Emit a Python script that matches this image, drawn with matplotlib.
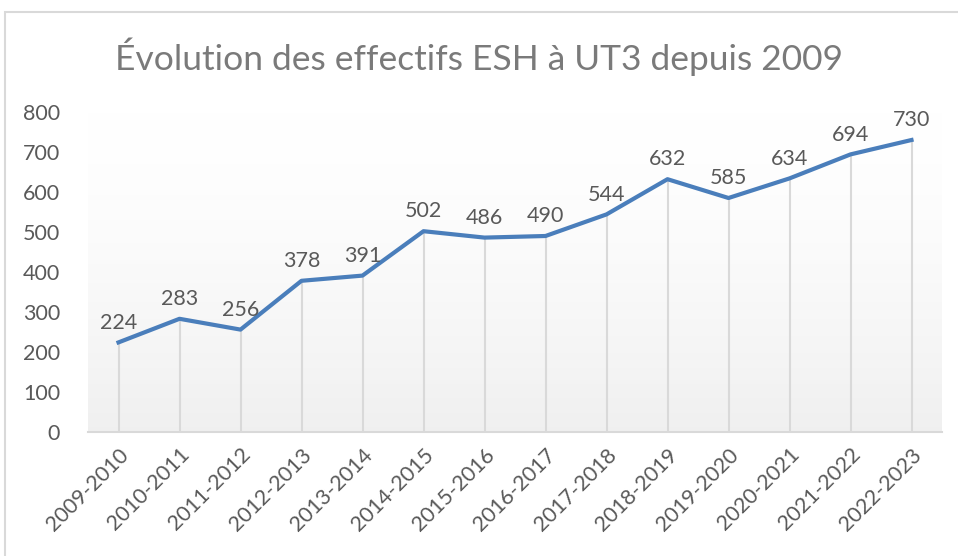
import numpy as np
import matplotlib.pyplot as plt
from matplotlib.patches import Rectangle

# Données
annees = ["2009-2010", "2010-2011", "2011-2012", "2012-2013", "2013-2014",
          "2014-2015", "2015-2016", "2016-2017", "2017-2018", "2018-2019",
          "2019-2020", "2020-2021", "2021-2022", "2022-2023"]
effectifs = [224, 283, 256, 378, 391, 502, 486, 490, 544, 632, 585, 634, 694, 730]

plt.rcParams['font.family'] = ['Lato', 'DejaVu Sans']

W, H = 958, 556
fig = plt.figure(figsize=(W / 100, H / 100), dpi=100)
fig.patch.set_facecolor("white")

# cadre du graphique
fig.patches.append(Rectangle((5 / W, -0.1), 1.2, 1 - 12 / H + 0.1, transform=fig.transFigure,
                             fill=False, edgecolor="#d9d9d9", linewidth=1.5))

ax = fig.add_axes([88 / W, 1 - 432 / H, (942 - 88) / W, (432 - 112) / H])
x = np.arange(len(annees))

# fond en dégradé
grad = np.linspace(0, 1, 256) ** 1.5
grad = (1.0 - 0.06 * grad).reshape(-1, 1)
ax.imshow(np.dstack([grad, grad, grad]), extent=[-0.5, len(annees) - 0.5, 0, 800],
          aspect="auto", zorder=0, origin="upper")

ax.vlines(x, 0, effectifs, colors="#d9d9d9", linewidth=1.5, zorder=1)
ax.plot(x, effectifs, color="#4a7ebb", linewidth=3, solid_joinstyle="round", zorder=3)

for xi, v in zip(x, effectifs):
    ax.annotate(str(v), (xi, v), xytext=(0, 7), textcoords="offset points",
                ha="center", va="bottom", fontsize=15.5, color="#595959")

ax.set_xlim(-0.5, len(annees) - 0.5)
ax.set_ylim(0, 800)
ax.set_yticks(range(0, 801, 100))
ax.set_xticks(x)
ax.set_xticklabels(annees, rotation=45, ha="right", rotation_mode="anchor")
ax.tick_params(axis="both", length=0, labelsize=15.5, labelcolor="#595959")
ax.tick_params(axis="y", pad=20)
ax.tick_params(axis="x", pad=9)
for s in ["top", "right", "left"]:
    ax.spines[s].set_visible(False)
ax.spines["bottom"].set_color("#d9d9d9")
ax.spines["bottom"].set_linewidth(1.5)
ax.spines["bottom"].set_zorder(2)

fig.text(0.5, 1 - 57 / H, "Évolution des effectifs ESH à UT3 depuis 2009",
         ha="center", va="center", fontsize=25.5, color="#7a7a7a")

fig.savefig("out.png", dpi=100)
